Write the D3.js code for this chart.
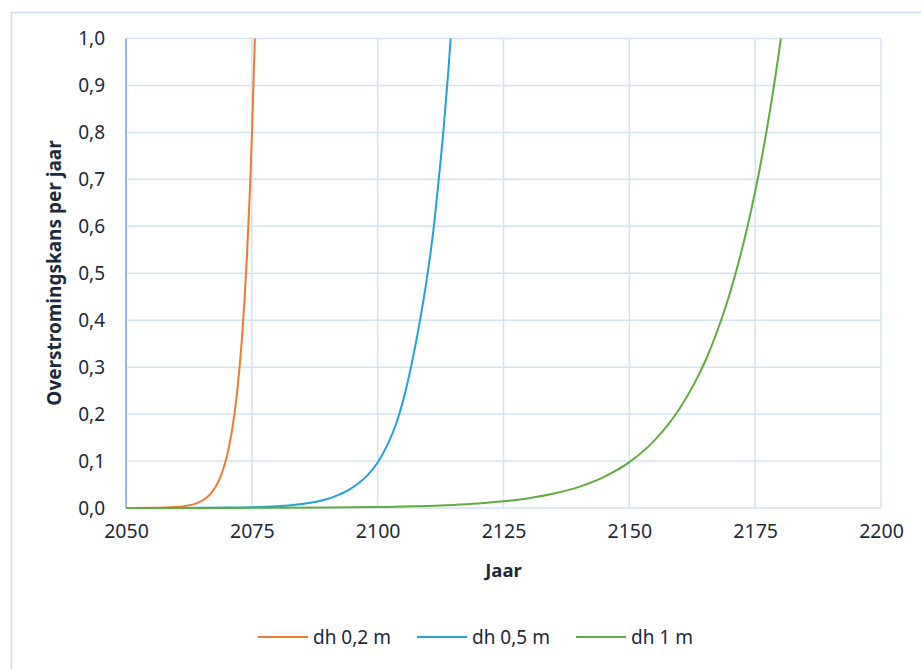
<!DOCTYPE html>
<html><head><meta charset="utf-8">
<script src="https://cdn.jsdelivr.net/npm/d3@7"></script>
<style>body{margin:0;background:#fff}svg{display:block}text{font-family:"Noto Sans",sans-serif;fill:#1b2a3a}</style>
</head><body><svg id="c" width="921" height="669"></svg>
<script>
const xTicks = [2050, 2075, 2100, 2125, 2150, 2175, 2200];
const yTicks = [0, 0.1, 0.2, 0.3, 0.4, 0.5, 0.6, 0.7, 0.8, 0.9, 1.0];
const seriesNames = ["dh 0,2 m", "dh 0,5 m", "dh 1 m"];
const seriesColors = ["#ee7b30", "#22a2d6", "#5fad3c"];
const yearsA = [2050, 2055, 2060, 2062, 2064, 2066, 2067, 2068, 2069, 2070, 2071, 2072, 2073, 2074, 2075, 2075.6];
const valsA  = [0.00004, 0.0003, 0.002, 0.0045, 0.01, 0.022, 0.033, 0.049, 0.073, 0.108, 0.161, 0.239, 0.356, 0.53, 0.788, 1.0];
const yearsB = [2050, 2060, 2070, 2075, 2080, 2085, 2088, 2090, 2092, 2094, 2096, 2098, 2100, 2102, 2104, 2106, 2108, 2110, 2111, 2112, 2113, 2114, 2114.5];
const valsB  = [0.00003, 0.00015, 0.0008, 0.0017, 0.0039, 0.0087, 0.014, 0.019, 0.027, 0.037, 0.051, 0.07, 0.097, 0.136, 0.19, 0.27, 0.375, 0.505, 0.585, 0.685, 0.795, 0.925, 1.0];
const yearsC = [2050, 2060, 2070, 2080, 2090, 2100, 2105, 2110, 2115, 2120, 2125, 2130, 2135, 2140, 2145, 2150, 2155, 2160, 2163, 2165, 2168, 2170, 2172, 2174, 2176, 2178, 2180, 2180.1];
const valsC  = [0.00004, 0.0001, 0.0002, 0.0004, 0.0009, 0.0021, 0.003, 0.0044, 0.0065, 0.0096, 0.0142, 0.0208, 0.0307, 0.0451, 0.0664, 0.0977, 0.144, 0.212, 0.267, 0.311, 0.393, 0.458, 0.535, 0.624, 0.728, 0.85, 0.992, 1.0];

const svg = d3.select("#c");
const x = d3.scaleLinear().domain([2050, 2200]).range([126, 881]);
const y = d3.scaleLinear().domain([0, 1]).range([508, 38.5]);

svg.append("rect").attr("x", 11.5).attr("y", 12.5).attr("width", 940).attr("height", 700)
  .attr("fill", "none").attr("stroke", "#c9dcf2").attr("stroke-width", 1.5);

// gridlines
svg.append("g").selectAll("line").data(yTicks).join("line")
  .attr("x1", x(2050)).attr("x2", x(2200)).attr("y1", d => y(d)).attr("y2", d => y(d))
  .attr("stroke", "#d3e2f5").attr("stroke-width", 1.5);
svg.append("g").selectAll("line").data(xTicks).join("line")
  .attr("x1", d => x(d)).attr("x2", d => x(d)).attr("y1", y(0)).attr("y2", y(1))
  .attr("stroke", "#d3e2f5").attr("stroke-width", 1.5);
svg.append("line").attr("x1", x(2050)).attr("x2", x(2050)).attr("y1", y(0)).attr("y2", y(1))
  .attr("stroke", "#7eaae0").attr("stroke-width", 1.5);

// axes
const fmt = d3.format(".1f");
const yAxis = d3.axisLeft(y).tickValues(yTicks).tickSize(0).tickPadding(0).tickFormat(d => fmt(d).replace(".", ","));
const gy = svg.append("g").attr("transform", "translate(105,0)").call(yAxis);
gy.select(".domain").remove();
gy.selectAll("text").attr("font-size", 19).attr("font-family", "Noto Sans").attr("fill", "#1b2a3a");
const xAxis = d3.axisBottom(x).tickValues(xTicks).tickSize(0).tickPadding(0).tickFormat(d3.format("d"));
const gx = svg.append("g").attr("transform", "translate(0,524)").call(xAxis);
gx.select(".domain").remove();
gx.selectAll("text").attr("font-size", 19.5).attr("font-family", "Noto Sans").attr("fill", "#1b2a3a");

// titles
svg.append("text").attr("x", x(2125)).attr("y", 577).attr("text-anchor", "middle")
  .attr("font-size", 18.5).attr("font-weight", "bold").text("Jaar");
svg.append("text").attr("transform", "translate(61,273) rotate(-90)").attr("text-anchor", "middle")
  .attr("font-size", 19).attr("font-weight", "bold").text("Overstromingskans per jaar");

// lines
const line = d3.line().x(d => x(d[0])).y(d => y(d[1])).curve(d3.curveMonotoneX);
const data = [d3.zip(yearsA, valsA), d3.zip(yearsB, valsB), d3.zip(yearsC, valsC)];
svg.append("g").selectAll("path").data(data).join("path")
  .attr("d", line).attr("fill", "none").attr("stroke", (d, i) => seriesColors[i]).attr("stroke-width", 2);

// legend
const legX = [258, 417, 576];
const lg = svg.append("g").selectAll("g").data(seriesNames).join("g")
  .attr("transform", (d, i) => `translate(${legX[i]},637)`);
lg.append("line").attr("x1", 0).attr("x2", 50).attr("stroke", (d, i) => seriesColors[i]).attr("stroke-width", 2);
lg.append("text").attr("x", 55).attr("dy", "0.35em").attr("font-size", 19).text(d => d);
</script></body></html>
